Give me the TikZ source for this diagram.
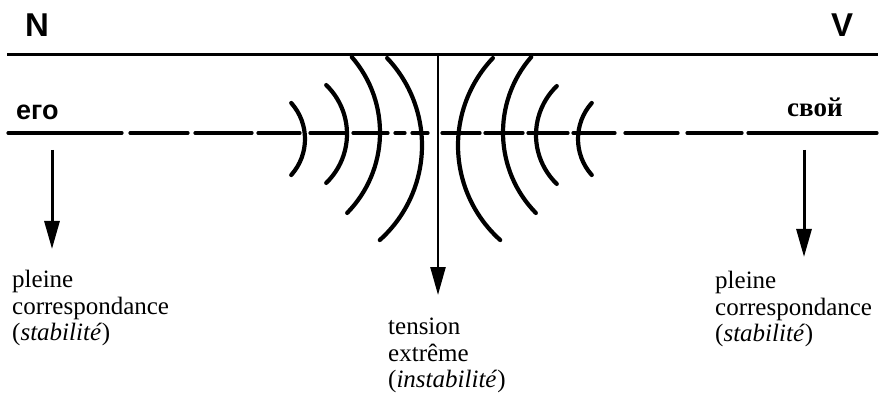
\documentclass[tikz,border=0pt]{standalone}
\usepackage{fontspec}
\setmainfont{Liberation Serif}
\newfontfamily\labsans{Liberation Sans}
\newfontfamily\cyrserif{Liberation Serif}
\usetikzlibrary{arrows.meta}
\tikzset{
  thickline/.style={line width=3pt},
  dashseg/.style={line width=3.2pt, line cap=round},
  wave/.style={line width=4.2pt, line cap=round},
  downarrow/.style={line width=3pt, -{Triangle[length=28pt,width=15pt]}},
  bigletter/.style={font=\labsans\fontsize{33}{36}\selectfont\bfseries, inner sep=0pt, anchor=base west},
  pronoun/.style={inner sep=0pt, anchor=base west},
  caption/.style={font=\fontsize{25}{26.5}\selectfont, align=left, inner sep=0pt, anchor=north west}
}
\begin{document}
\begin{tikzpicture}[x=1pt,y=-1pt]
\useasboundingbox (0,0) rectangle (880,395);
% letters
\node[bigletter] (N) at (25,37) {N};
\node[bigletter] (V) at (831,37) {V};
% top line
\coordinate (topL) at (7,55);
\coordinate (topR) at (878,55);
\draw[thickline] (topL) -- (topR);
% pronouns
\node[pronoun, font=\labsans\fontsize{27}{30}\selectfont\bfseries] (ego) at (16,120) {его};
\node[pronoun, font=\cyrserif\fontsize{27}{30}\selectfont\bfseries] (svoj) at (787,117) {свой};
% dashed line
\foreach \a/\b in {8/122,130/188,195/252,258/300,310/345,353/388,395/405,412/428,
                   442/480,485/523,528/568,573/615,625/678,687/742,748/877}{
  \draw[dashseg] (\a,133) -- (\b,133);
}
% waves, left (centre, radius, upper and lower half-angles)
\foreach \cx/\cy/\r/\au/\ad in {251/139/54/41.8/41.8, 279/134/68/46/46,
                                265/132.5/115/41/44.4, 295/145.5/127/43.5/48.1}{
  \draw[wave] (\cx,\cy) ++(-\au:\r) arc[start angle=-\au, end angle=\ad, radius=\r];
}
% waves, right
\foreach \cx/\cy/\r/\au/\ad in {585/145.5/127/43.5/48.1, 618/132.5/115/41/44.4,
                                604/135/68/46/46, 632/139/54/41.8/41.8}{
  \draw[wave] (\cx,\cy) ++(180+\au:\r) arc[start angle=180+\au, end angle=180-\ad, radius=\r];
}
% arrows
\coordinate (aLs) at (52,150);
\coordinate (aLe) at (52,249);
\coordinate (aCs) at (438,55);
\coordinate (aCe) at (438,295);
\coordinate (aRs) at (804,150);
\coordinate (aRe) at (804,257);
\draw[downarrow] (aLs) -- (aLe);
\draw[downarrow, line width=2.5pt] (aCs) -- (aCe);
\draw[downarrow] (aRs) -- (aRe);
% captions
\node[caption] (capL) at (12,270) {pleine\\correspondance\\(\textit{stabilité})};
\node[caption] (capC) at (388,318) {tension\\extrême\\(\textit{instabilité})};
\node[caption] (capR) at (715,271) {pleine\\correspondance\\(\textit{stabilité})};
\end{tikzpicture}
\end{document}
